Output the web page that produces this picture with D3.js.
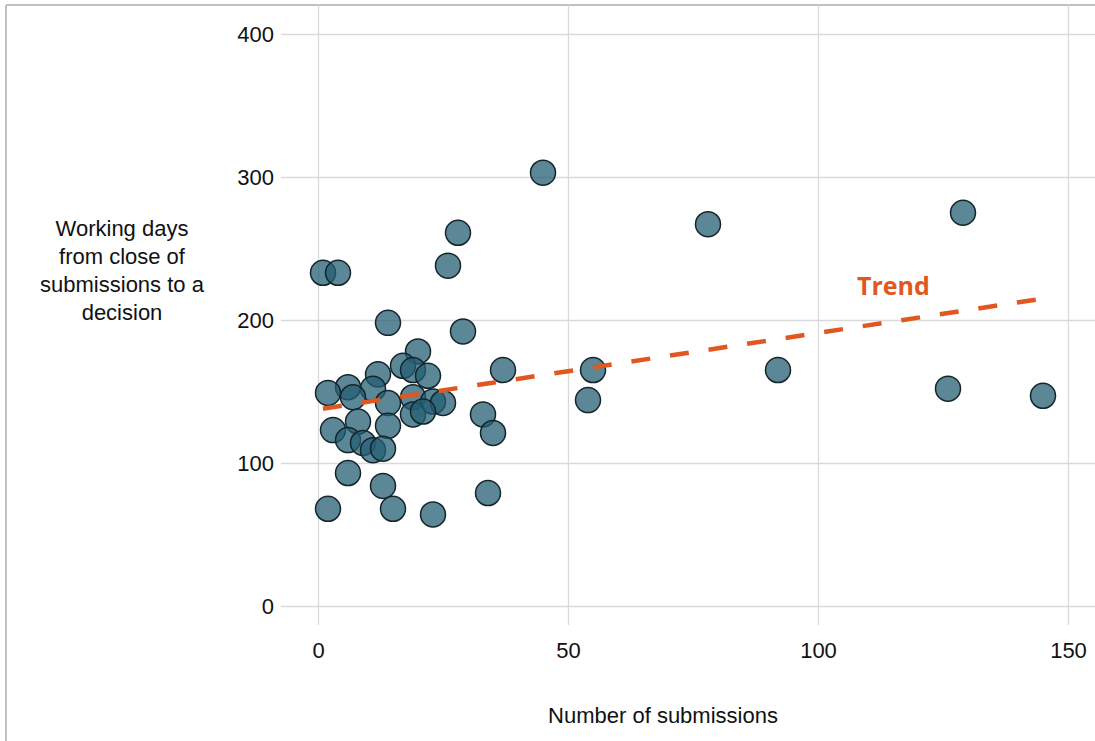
<!DOCTYPE html>
<html><head><meta charset="utf-8">
<script src="https://cdn.jsdelivr.net/npm/d3@7"></script>
<style>
html,body{margin:0;padding:0;background:#fff;}
svg{display:block;}
</style></head>
<body><svg id="c" width="1095" height="741"></svg>
<script>
// Data: [number of submissions, working days to decision]
const submissions = [45,78,129,28,26,1,4,14,29,145,126,92,55,54,37,20,17,19,22,12,6,2,11,7,14,19,23,25,19,21,33,35,8,3,14,6,9,11,13,6,13,2,15,23,34];
const workingDays = [303,267,275,261,238,233,233,198,192,147,152,165,165,144,165,178,168,165,161,162,153,149,152,146,142,146,143,142,134,136,134,121,129,123,126,116,114,109,110,93,84,68,68,64,79];
const trendX = [1,145];
const trendY = [138,215];
const xTicks = [0,50,100,150];
const yTicks = [0,100,200,300,400];
const xLabel = "Number of submissions";
const yLabelLines = ["Working days","from close of","submissions to a","decision"];
const trendLabel = "Trend";

const FONT = "'Liberation Sans',Arial,sans-serif";
const svg = d3.select("#c");
const x = d3.scaleLinear().domain([0,150]).range([318,1068]);
const y = d3.scaleLinear().domain([0,400]).range([606,34]);

// frame (top & left visible)
svg.append("line").attr("x1",6).attr("x2",1095).attr("y1",5).attr("y2",5).attr("stroke","#c0c0c0").attr("stroke-width",2);
svg.append("line").attr("x1",6).attr("x2",6).attr("y1",5).attr("y2",741).attr("stroke","#c0c0c0").attr("stroke-width",2);

// y axis + horizontal gridlines
const gy = svg.append("g").attr("transform","translate(281,0)")
  .call(d3.axisLeft(y).tickValues(yTicks).tickSize(-(1095-281)).tickPadding(7));
gy.select(".domain").remove();
gy.selectAll(".tick line").attr("stroke","#d9d9d9").attr("stroke-width",1.3);
gy.selectAll(".tick text").style("font-size","22px").style("fill","#111").style("font-family",FONT);

// x axis + vertical gridlines
const gx = svg.append("g").attr("transform","translate(0,625)")
  .call(d3.axisBottom(x).tickValues(xTicks).tickSize(-620).tickPadding(17));
gx.select(".domain").remove();
gx.selectAll(".tick line").attr("stroke","#d9d9d9").attr("stroke-width",1.3);
gx.selectAll(".tick text").style("font-size","22px").style("fill","#111").style("font-family",FONT);

// axis titles
svg.append("text").attr("x",663).attr("y",723).attr("text-anchor","middle")
  .style("font-size","22px").style("fill","#111").style("font-family",FONT).text(xLabel);
svg.append("text").attr("text-anchor","middle")
  .style("font-size","22px").style("fill","#111").style("font-family",FONT)
  .selectAll("tspan").data(yLabelLines).join("tspan")
  .attr("x",122).attr("y",(d,i)=>236+i*28).text(d=>d);

// points
const pts = submissions.map((s,i)=>({s, d: workingDays[i]}));
svg.append("g").selectAll("circle").data(pts).join("circle")
  .attr("cx",p=>x(p.s)).attr("cy",p=>y(p.d)).attr("r",12.5)
  .attr("fill","#235d71").attr("fill-opacity",0.74)
  .attr("stroke","#15252b").attr("stroke-width",1.5);

// trend line
const tr = trendX.map((v,i)=>[v,trendY[i]]);
svg.append("path").datum(tr)
  .attr("d", d3.line().x(d=>x(d[0])).y(d=>y(d[1])))
  .attr("stroke","#e0571f").attr("stroke-width",4.5).attr("fill","none")
  .attr("stroke-dasharray","19 20");

svg.append("text").attr("x",857).attr("y",295)
  .style("font-size","25px").style("font-weight","700")
  .style("font-family","'Open Sans',sans-serif").style("fill","#e0571f").text(trendLabel);
</script></body></html>
